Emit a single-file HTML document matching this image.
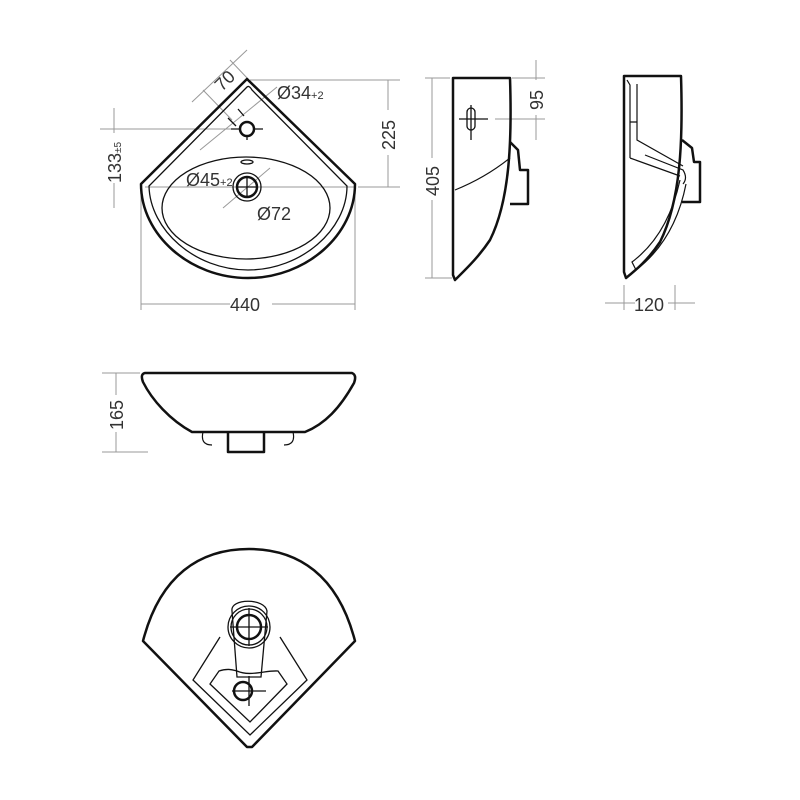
<!DOCTYPE html>
<html><head><style>body{margin:0;background:#fff}svg{display:block}text{font-family:"Liberation Sans",sans-serif;fill:#333}</style></head><body>
<svg width="800" height="800" viewBox="0 0 800 800" xmlns="http://www.w3.org/2000/svg">
<g fill="none" stroke="#999" stroke-width="1">
<line x1="141" y1="190" x2="141" y2="310"/><line x1="355" y1="190" x2="355" y2="310"/>
<line x1="141" y1="304" x2="230" y2="304"/><line x1="272" y1="304" x2="355" y2="304"/>
<line x1="250" y1="80" x2="400" y2="80"/><line x1="358" y1="187" x2="400" y2="187"/>
<line x1="388" y1="80" x2="388" y2="110"/><line x1="388" y1="155" x2="388" y2="187"/>
<line x1="100" y1="129" x2="240" y2="129"/><line x1="114" y1="108" x2="114" y2="133"/><line x1="114" y1="183" x2="114" y2="208"/>
<line x1="192" y1="102" x2="247" y2="50"/>
<line x1="230" y1="60" x2="249" y2="80"/><line x1="203" y1="90" x2="232" y2="120"/>
<line x1="200" y1="150" x2="277" y2="87"/>
<line x1="223" y1="208" x2="270" y2="168"/>
<line x1="145" y1="187" x2="355" y2="187"/>
<line x1="425" y1="78" x2="450" y2="78"/><line x1="425" y1="278" x2="452" y2="278"/>
<line x1="432" y1="78" x2="432" y2="158"/><line x1="432" y1="200" x2="432" y2="278"/>
<line x1="512" y1="78" x2="545" y2="78"/><line x1="495" y1="119" x2="545" y2="119"/>
<line x1="536" y1="60" x2="536" y2="80"/><line x1="536" y1="115" x2="536" y2="140"/>
<line x1="624" y1="285" x2="624" y2="310"/><line x1="675" y1="285" x2="675" y2="310"/>
<line x1="605" y1="303" x2="635" y2="303"/><line x1="668" y1="303" x2="695" y2="303"/>
<line x1="102" y1="373" x2="140" y2="373"/><line x1="102" y1="452" x2="148" y2="452"/>
<line x1="116" y1="373" x2="116" y2="395"/><line x1="116" y1="432" x2="116" y2="452"/>
</g>
<g fill="none" stroke="#111" stroke-width="2.5" stroke-linejoin="round">
<path d="M247,79 L141,184 C141,235 190,278 248,278 C306,278 355,235 355,184 Z"/>
</g>
<g fill="none" stroke="#111" stroke-width="1.3">
<path d="M247,87 L149,186 C150,230 195,270 248,270 C301,270 347,230 347,186 L252,90 Q249,85 247,87Z"/>
<ellipse cx="246" cy="208" rx="84" ry="51"/>
<ellipse cx="247" cy="162" rx="6" ry="2"/>
<circle cx="247" cy="187" r="14"/>
<line x1="236" y1="126" x2="228" y2="118"/><line x1="244" y1="116" x2="238" y2="109"/>
<path d="M231,129H241M253,129H263M247,135V140M247,176V196M236,187H258"/>
<path d="M459,119H488M471,105V140"/>
<path d="M467,112 a4,4 0 0 1 8,0 v14 a4,4 0 0 1 -8,0z"/>
<path d="M220,637 L193,680 L250,735 L307,680 L280,637"/>
<path d="M232,611 C230,598 265,598 267,611 L261,677 L237,677 Z"/>
<circle cx="249" cy="627" r="21"/><circle cx="249" cy="627" r="18"/>
<path d="M237,671 C250,677 266,670 278,671 L287,684 L250,722 L210,684 L219,671 C228,668 233,670 237,671"/>
<path d="M230,627H268M249,608V646M232,691H266M249,676V706"/>
</g>
<g fill="none" stroke="#111" stroke-width="2.5" stroke-linejoin="round">
<circle cx="247" cy="129" r="7"/>
<circle cx="247" cy="187" r="10"/>
<path d="M453,78 L510,78 C512,140 510,200 490,240 C478,258 465,270 455,280 L453,275 Z"/>
<path d="M510,142 L518,150 L520,170 L528,170 L528,204 L510,204"/>
<path d="M624,76 L681,76 C683,140 681,200 660,242 C648,260 636,270 626,278 L624,272 Z"/>
<path d="M682,140 L692,148 L694,162 L700,162 L700,202 L682,202"/>
<path d="M145,373 L352,373 Q357,375 354,383 C340,408 325,424 305,432 L192,432 C170,420 152,400 143,382 Q140,374 145,373 Z"/>
<path d="M228,432 L228,452 L264,452 L264,432"/>
<path d="M143,641 C160,575 200,549 249,549 C298,549 338,575 355,641 L252,747 L247,747 Z"/>
<circle cx="249" cy="627" r="12"/>
<circle cx="243" cy="691" r="9"/>
</g>
<g fill="none" stroke="#111" stroke-width="1.2">
<path d="M455,190 Q485,178 510,158"/>
<path d="M627,80 L630,85 L630,158 M637,84 V125 M630,122 H637 V140 L683,166 M630,158 L680,176 M645,155 L683,170 Q688,178 683,184"/>
<path d="M680,180 Q668,235 632,262 L636,270 Q675,240 686,184"/>
<path d="M203,432 Q200,445 212,445 M293,432 Q296,445 284,445"/>
</g>
<g font-size="18">
<text x="230" y="311">440</text>
<text transform="translate(395,150) rotate(-90)">225</text>
<text transform="translate(121,183) rotate(-90)">133<tspan font-size="10">±5</tspan></text>
<text transform="translate(222,92) rotate(-45)">70</text>
<text x="277" y="99">Ø34<tspan font-size="11">+2</tspan></text>
<text x="186" y="186">Ø45<tspan font-size="11">+2</tspan></text>
<text x="257" y="220">Ø72</text>
<text transform="translate(439,196) rotate(-90)">405</text>
<text transform="translate(543,110) rotate(-90)">95</text>
<text x="634" y="311">120</text>
<text transform="translate(123,430) rotate(-90)">165</text>
</g>
</svg>
</body></html>
